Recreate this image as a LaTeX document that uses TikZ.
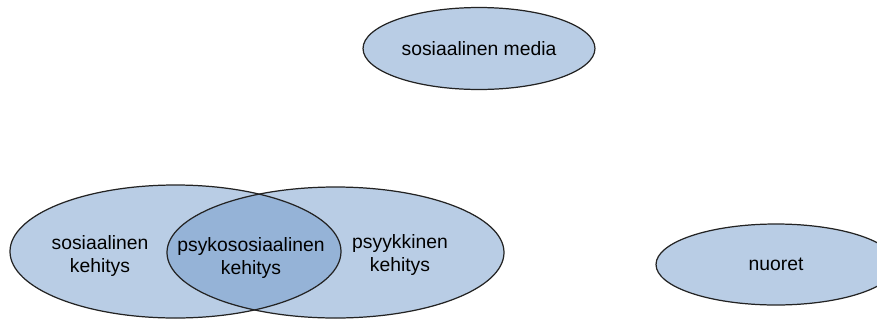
\documentclass[tikz,border=0pt]{standalone}
\usepackage{fontspec}
\setmainfont{Liberation Sans}
\usetikzlibrary{positioning, shapes.geometric}
\definecolor{vaalea}{RGB}{185,205,229}
\definecolor{tumma}{RGB}{149,179,215}
\definecolor{reuna}{RGB}{35,35,35}
\begin{document}
\begin{tikzpicture}[
    x=0.02cm, y=-0.02cm,
    kasite/.style={ellipse, draw=reuna, fill=vaalea, line width=0.7pt, inner sep=0pt, font=\fontsize{11}{13}\selectfont, align=center},
    teksti/.style={font=\fontsize{11}{13}\selectfont, align=center},
    alue/.style={draw=reuna, line width=0.7pt}
]
    \useasboundingbox (0,0) rectangle (877,322);

    \def\lx{175.5} \def\ly{251.5} % sosiaalinen kehitys
    \def\rx{335.5} \def\ry{252.5} % psyykkinen kehitys

    % venn: taustat
    \fill[vaalea] (\lx,\ly) ellipse [x radius=165.5, y radius=66.5];
    \fill[vaalea] (\rx,\ry) ellipse [x radius=168.5, y radius=65.5];
    % leikkaus
    \begin{scope}
        \clip (\lx,\ly) ellipse [x radius=165.5, y radius=66.5];
        \fill[tumma] (\rx,\ry) ellipse [x radius=168.5, y radius=65.5];
    \end{scope}
    \draw[alue] (\lx,\ly) ellipse [x radius=165.5, y radius=66.5];
    \draw[alue] (\rx,\ry) ellipse [x radius=168.5, y radius=65.5];

    \node[teksti] (sosk) at (100,256) {sosiaalinen\\kehitys};
    \node[teksti] (psykos) at (251,258) {psykososiaalinen\\kehitys};
    \node[teksti] (psyyk) at (400,255) {psyykkinen\\kehitys};

    % erilliset kasitteet
    \node[kasite, minimum width=4.64cm, minimum height=1.64cm] (media) at (479,48.5) {sosiaalinen media};
    \node[kasite, minimum width=4.8cm, minimum height=1.62cm] (nuoret) at (776,264.5) {nuoret};
\end{tikzpicture}
\end{document}
